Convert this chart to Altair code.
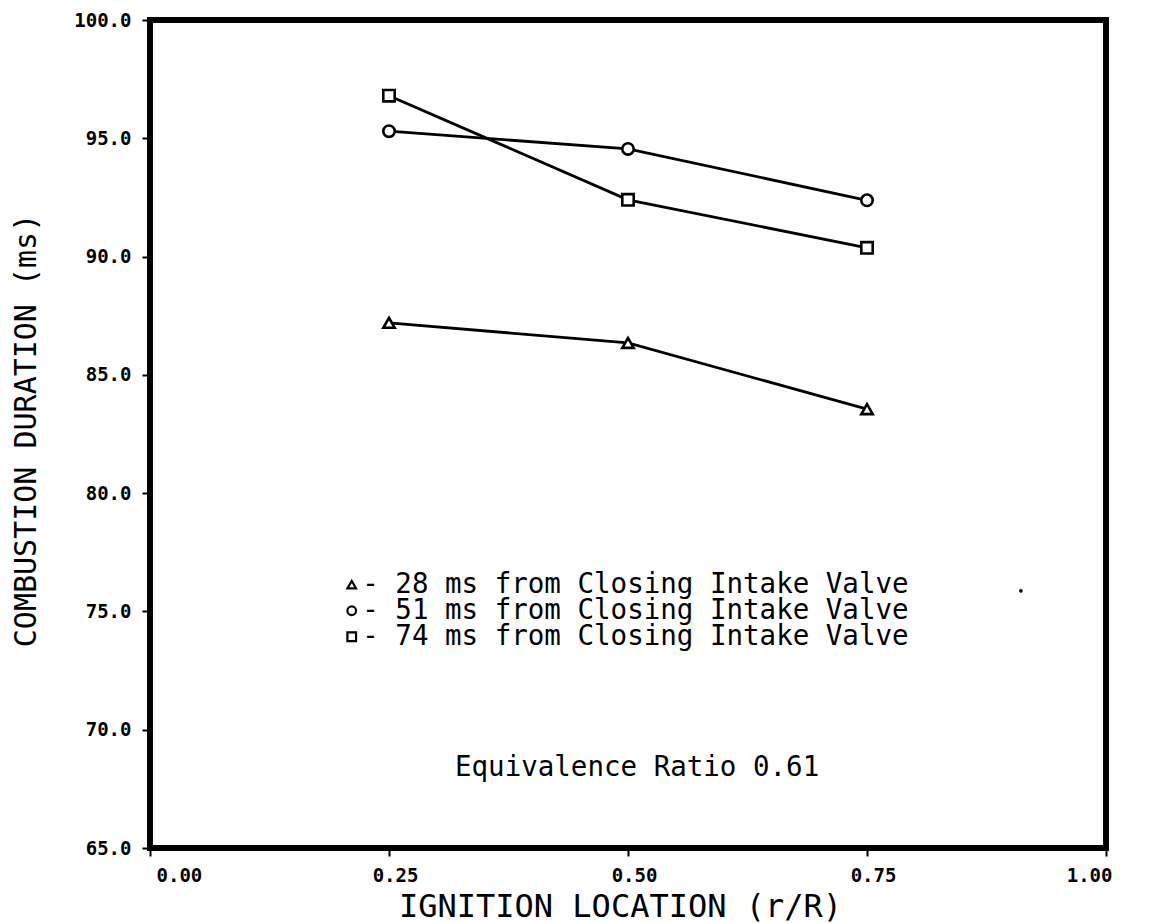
import altair as alt
import pandas as pd

# ---- data ----
x_loc = [0.25, 0.50, 0.75]
dur_28 = [87.2, 86.35, 83.55]
dur_51 = [95.3, 94.55, 92.38]
dur_74 = [96.8, 92.4, 90.37]
series = ["28 ms", "51 ms", "74 ms"]
shapes = ["triangle-up", "circle", "square"]
legend_labels = [
    "- 28 ms from Closing Intake Valve",
    "- 51 ms from Closing Intake Valve",
    "- 74 ms from Closing Intake Valve",
]
legend_y = [76.13, 75.03, 73.93]
legend_sym_x = 0.211
legend_txt_x = 0.222
note_text = "Equivalence Ratio 0.61"
note_x = 0.319
note_y = 68.39
stray_dot_x = [0.911]
stray_dot_y = [75.87]
x_ticks = [0.0, 0.25, 0.50, 0.75, 1.0]
y_ticks = [65, 70, 75, 80, 85, 90, 95, 100]

rows = []
for s, vals in zip(series, [dur_28, dur_51, dur_74]):
    for xv, yv in zip(x_loc, vals):
        rows.append({"series": s, "x": xv, "y": yv})
df = pd.DataFrame(rows)

leg = pd.DataFrame({
    "series": series,
    "label": legend_labels,
    "y": legend_y,
    "xs": [legend_sym_x] * 3,
    "xt": [legend_txt_x] * 3,
})
note = pd.DataFrame({"label": [note_text], "x": [note_x], "y": [note_y]})
dot = pd.DataFrame({"x": stray_dot_x, "y": stray_dot_y})

FONT = "DejaVu Sans Mono"
W, H = 956, 828

xscale = alt.Scale(domain=[0, 1], nice=False, zero=False)
yscale = alt.Scale(domain=[65, 100], nice=False, zero=False)
shape_scale = alt.Scale(domain=series, range=shapes)

xaxis = alt.Axis(
    title="IGNITION LOCATION (r/R)", values=x_ticks, format=".2f",
    labelFont=FONT, labelFontSize=19, labelFontWeight="bold", labelColor="black",
    labelOffset=6,
    tickColor="black", tickSize=8, tickWidth=2, labelPadding=10,
    domain=False, grid=False,
    titleFont=FONT, titleFontSize=32, titleFontWeight="normal", titleColor="black",
    titleX=W / 2 - 8, titleY=58, titleBaseline="middle", titleAnchor="middle",
)
yaxis = alt.Axis(
    title="COMBUSTION DURATION (ms)", values=y_ticks, format=".1f",
    labelFont=FONT, labelFontSize=19, labelFontWeight="bold", labelColor="black",
    tickColor="black", tickSize=8, tickWidth=2, labelPadding=11,
    domain=False, grid=False,
    titleFont=FONT, titleFontSize=30, titleFontWeight="normal", titleColor="black",
    titleX=-124, titleY=410, titleAngle=-90, titleBaseline="middle", titleAlign="center",
)

base = alt.Chart(df)
lines = base.mark_line(color="black", strokeWidth=2.8).encode(
    x=alt.X("x:Q", scale=xscale, axis=xaxis),
    y=alt.Y("y:Q", scale=yscale, axis=yaxis),
    detail="series:N",
)
pts = base.mark_point(filled=True, fill="white", stroke="black", strokeWidth=2.6, size=130, opacity=1).encode(
    x=alt.X("x:Q", scale=xscale),
    y=alt.Y("y:Q", scale=yscale),
    shape=alt.Shape("series:N", scale=shape_scale, legend=None),
)

leg_pts = alt.Chart(leg).mark_point(filled=True, fill="white", stroke="black", strokeWidth=2.2, size=75, opacity=1).encode(
    x=alt.X("xs:Q", scale=xscale),
    y=alt.Y("y:Q", scale=yscale),
    shape=alt.Shape("series:N", scale=shape_scale, legend=None),
)
leg_txt = alt.Chart(leg).mark_text(
    align="left", baseline="middle", font=FONT, fontSize=27.5, color="black"
).encode(
    x=alt.X("xt:Q", scale=xscale),
    y=alt.Y("y:Q", scale=yscale),
    text="label:N",
)
note_txt = alt.Chart(note).mark_text(
    align="left", baseline="middle", font=FONT, fontSize=27.5, color="black"
).encode(
    x=alt.X("x:Q", scale=xscale),
    y=alt.Y("y:Q", scale=yscale),
    text="label:N",
)
dot_mark = alt.Chart(dot).mark_point(filled=True, color="black", size=14, opacity=1, shape="circle").encode(
    x=alt.X("x:Q", scale=xscale),
    y=alt.Y("y:Q", scale=yscale),
)

chart = alt.layer(lines, pts, leg_pts, leg_txt, note_txt, dot_mark).properties(
    width=W, height=H,
    autosize=alt.AutoSizeParams(type="none"),
    padding={"left": 142, "top": 12, "right": 20, "bottom": 75},
    background="white",
).configure_view(stroke="black", strokeWidth=6)

chart.save("out.html", embed_options={"renderer": "svg", "actions": False})
